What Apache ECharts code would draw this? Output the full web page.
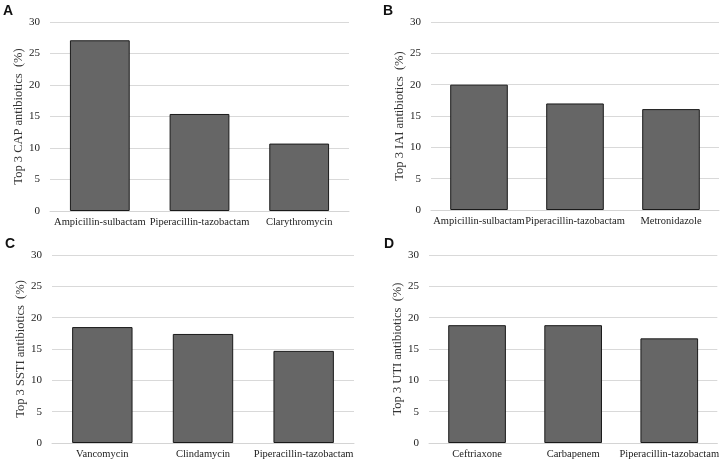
<!DOCTYPE html>
<html><head><meta charset="utf-8">
<script src="https://cdn.jsdelivr.net/npm/echarts@6/dist/echarts.min.js"></script>
<style>html,body{margin:0;padding:0;background:#fff}#c{width:722px;height:462px}</style>
</head><body><div id="c"></div>
<script>
const catsA = ['Ampicillin-sulbactam', 'Piperacillin-tazobactam', 'Clarythromycin'];
const valsA = [27.1, 15.4, 10.7];
const catsB = ['Ampicillin-sulbactam', 'Piperacillin-tazobactam', 'Metronidazole'];
const valsB = [20.0, 17.0, 16.1];
const catsC = ['Vancomycin', 'Clindamycin', 'Piperacillin-tazobactam'];
const valsC = [18.5, 17.4, 14.7];
const catsD = ['Ceftriaxone', 'Carbapenem', 'Piperacillin-tazobactam'];
const valsD = [18.8, 18.8, 16.7];
const yTitles = ['Top 3 CAP antibiotics  (%)', 'Top 3 IAI antibiotics  (%)', 'Top 3 SSTI antibiotics  (%)', 'Top 3 UTI antibiotics  (%)'];
const panelLetters = ['A', 'B', 'C', 'D'];

const cats = [catsA, catsB, catsC, catsD];
const vals = [valsA, valsB, valsC, valsD];
const grids = [
  {left: 50, top: 22, width: 299, height: 189},
  {left: 431, top: 22, width: 288, height: 188},
  {left: 52, top: 255, width: 302, height: 188},
  {left: 429, top: 255, width: 289, height: 188}
];
const letterPos = [[3, 4], [383, 4], [5, 237], [384, 237]];
const font = '"Liberation Serif", "Times New Roman", serif';

const chart = echarts.init(document.getElementById('c'), null, {renderer: 'canvas'});
chart.setOption({
  animation: false,
  backgroundColor: '#fff',
  title: panelLetters.map((t, i) => ({
    text: t, left: letterPos[i][0], top: letterPos[i][1], padding: 0,
    textStyle: {fontFamily: 'Liberation Sans, Arial, sans-serif', fontWeight: 'bold', fontSize: 14, color: '#111'}
  })),
  grid: grids,
  xAxis: cats.map((c, i) => ({
    type: 'category', gridIndex: i, data: c,
    axisLine: {show: true, lineStyle: {color: '#d4d4d4', width: 1}},
    axisTick: {show: false},
    axisLabel: {fontFamily: font, fontSize: 10.5, color: '#222', margin: 6, interval: 0}
  })),
  yAxis: cats.map((c, i) => ({
    type: 'value', gridIndex: i, min: 0, max: 30, interval: 5,
    name: yTitles[i], nameLocation: 'middle', nameGap: 20,
    nameTextStyle: {fontFamily: font, fontSize: 12.5, color: '#333'},
    axisLine: {show: false}, axisTick: {show: false},
    axisLabel: {fontFamily: font, fontSize: 11, color: '#222', margin: 10},
    splitLine: {lineStyle: {color: '#d9d9d9', width: 1}}
  })),
  series: vals.map((v, i) => ({
    type: 'bar', xAxisIndex: i, yAxisIndex: i, data: v,
    barCategoryGap: '40%',
    itemStyle: {color: '#666666', borderColor: '#1a1a1a', borderWidth: 1}
  }))
});
</script></body></html>
